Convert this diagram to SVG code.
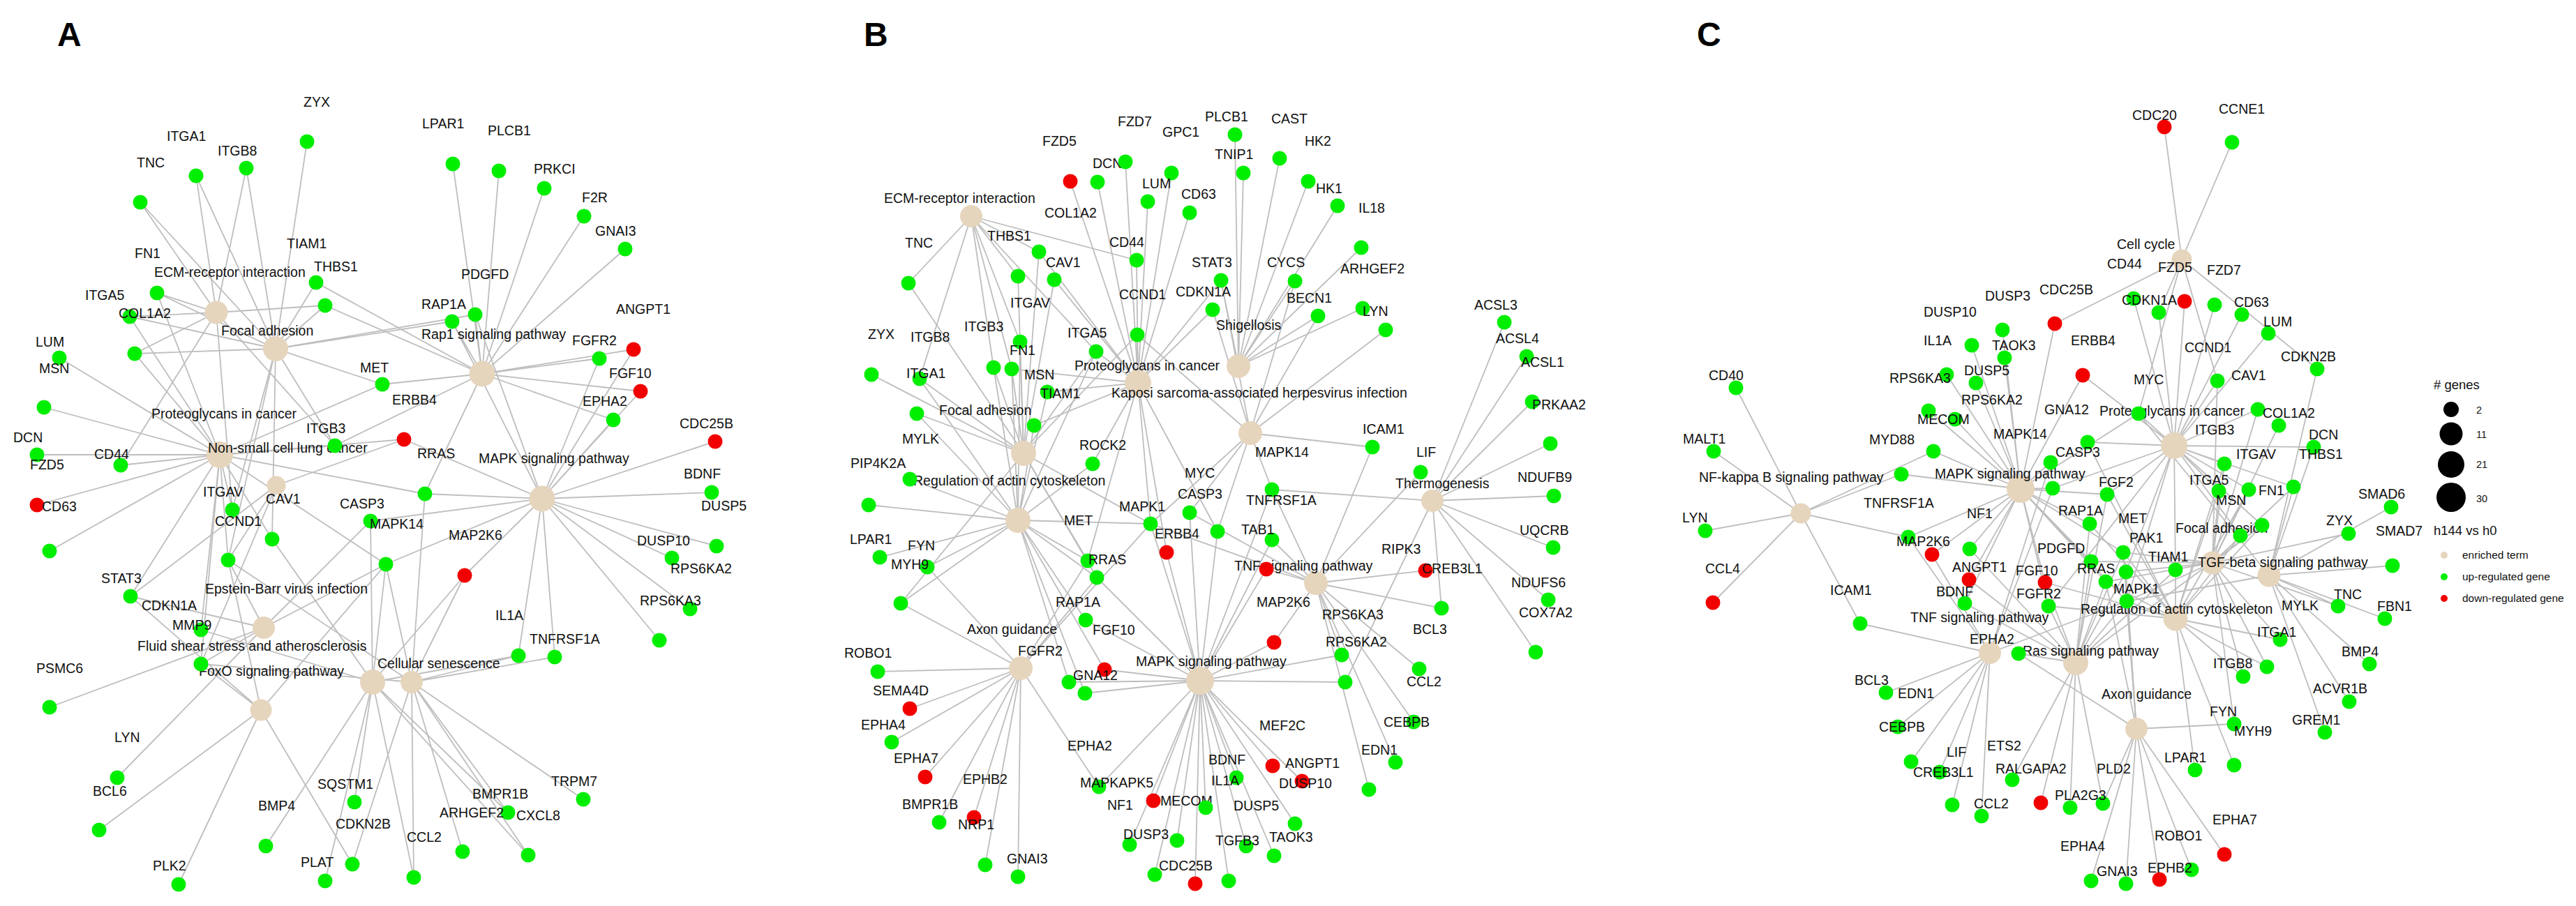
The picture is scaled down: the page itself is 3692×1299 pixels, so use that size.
<svg xmlns="http://www.w3.org/2000/svg" width="3692" height="1299" viewBox="0 0 3692 1299">
<style>
.e path{stroke:#bebebe;stroke-width:1.8;fill:none}
.t{fill:#e6d5bd}
.u{fill:#00ee00}
.d{fill:#f20000}
.k{fill:#000}
text{font-family:"Liberation Sans",Arial,Helvetica,sans-serif;font-size:19.5px;fill:#111}
.L{font-size:48px;font-weight:bold;fill:#000}
.s{font-size:15.5px}
.n{font-size:14.5px}
.h{font-size:18.5px}
</style>
<rect width="3692" height="1299" fill="#fff"/>
<text class="L" x="82" y="66">A</text>
<text class="L" x="1238" y="66">B</text>
<text class="L" x="2432" y="66">C</text>

<g id="connectors" class="e">
<!-- Panel A -->
<path d="M440 203L395 500"/>
<path d="M281 252L310 448M281 252L395 500"/>
<path d="M353 241L310 448M353 241L395 500"/>
<path d="M201 290L310 448M201 290L395 500"/>
<path d="M453 405L395 500M453 405L691 536"/>
<path d="M225 420L310 448M225 420L395 500M225 420L315 652"/>
<path d="M466 438L310 448M466 438L395 500M466 438L691 536"/>
<path d="M193 507L310 448M193 507L395 500M193 507L315 652"/>
<path d="M186 454L310 448M186 454L395 500M186 454L315 652"/>
<path d="M85 513L315 652"/>
<path d="M63 584L315 652"/>
<path d="M548 551L395 500M548 551L691 536M548 551L315 652"/>
<path d="M579 630L777 715M579 630L315 652M579 630L396 696"/>
<path d="M480 639L310 448M480 639L395 500M480 639L691 536M480 639L315 652"/>
<path d="M53 652L315 652"/>
<path d="M173 667L310 448M173 667L315 652"/>
<path d="M71 790L315 652"/>
<path d="M53 724L315 652"/>
<path d="M649 235L691 536"/>
<path d="M715 245L691 536"/>
<path d="M780 270L691 536"/>
<path d="M837 310L691 536"/>
<path d="M896 357L691 536"/>
<path d="M681 451L395 500M681 451L691 536M681 451L777 715"/>
<path d="M648 461L395 500M648 461L691 536M648 461L777 715"/>
<path d="M859 514L691 536M859 514L777 715"/>
<path d="M908 501L691 536M908 501L777 715"/>
<path d="M918 561L691 536M918 561L777 715"/>
<path d="M879 602L691 536M879 602L777 715"/>
<path d="M1025 633L777 715"/>
<path d="M609 708L315 652M609 708L691 536M609 708L777 715M609 708L590 978"/>
<path d="M1020 706L777 715"/>
<path d="M1027 783L777 715"/>
<path d="M963 800L777 715"/>
<path d="M989 873L777 715"/>
<path d="M945 918L777 715"/>
<path d="M666 825L777 715M666 825L534 978M666 825L590 978"/>
<path d="M743 940L777 715M743 940L534 978M743 940L590 978"/>
<path d="M795 942L777 715M795 942L590 978"/>
<path d="M836 1146L590 978"/>
<path d="M728 1165L534 978M728 1165L590 978"/>
<path d="M757 1226L590 978M757 1226L534 978"/>
<path d="M663 1221L590 978"/>
<path d="M593 1258L590 978M593 1258L534 978"/>
<path d="M333 731L310 448M333 731L395 500M333 731L315 652"/>
<path d="M327 803L395 500M327 803L315 652M327 803L396 696M327 803L378 900M327 803L374 1018M327 803L590 978"/>
<path d="M390 773L395 500M390 773L315 652M390 773L534 978"/>
<path d="M531 747L777 715M531 747L378 900M531 747L534 978"/>
<path d="M553 809L315 652M553 809L378 900M553 809L534 978M553 809L374 1018M553 809L590 978M553 809L777 715"/>
<path d="M187 855L315 652M187 855L396 696M187 855L378 900M187 855L374 1018"/>
<path d="M288 952L315 652M288 952L396 696M288 952L378 900M288 952L374 1018M288 952L590 978"/>
<path d="M288 903L315 652M288 903L534 978"/>
<path d="M71 1014L378 900"/>
<path d="M168 1115L378 900"/>
<path d="M142 1190L374 1018"/>
<path d="M256 1268L374 1018"/>
<path d="M381 1213L534 978"/>
<path d="M508 1150L534 978"/>
<path d="M505 1239L374 1018M505 1239L590 978"/>
<path d="M466 1263L534 978"/>
<!-- Panel B -->
<path d="M1534 260L1631 549"/>
<path d="M1573 261L1631 549"/>
<path d="M1613 232L1631 549"/>
<path d="M1679 248L1631 549"/>
<path d="M1645 289L1631 549"/>
<path d="M1705 305L1631 549"/>
<path d="M1459 396L1392 310M1459 396L1467 650"/>
<path d="M1489 361L1392 310M1489 361L1467 650M1489 361L1631 549"/>
<path d="M1302 406L1392 310M1302 406L1467 650"/>
<path d="M1629 373L1392 310M1629 373L1631 549"/>
<path d="M1511 401L1467 650M1511 401L1631 549"/>
<path d="M1462 490L1392 310M1462 490L1467 650M1462 490L1459 746"/>
<path d="M1424 527L1392 310M1424 527L1467 650M1424 527L1459 746"/>
<path d="M1450 529L1392 310M1450 529L1467 650M1450 529L1459 746M1450 529L1631 549"/>
<path d="M1571 504L1392 310M1571 504L1467 650M1571 504L1631 549M1571 504L1459 746"/>
<path d="M1249 537L1467 650"/>
<path d="M1318 543L1392 310M1318 543L1467 650M1318 543L1459 746"/>
<path d="M1482 610L1631 549M1482 610L1459 746"/>
<path d="M1501 562L1631 549M1501 562L1459 746"/>
<path d="M1314 593L1467 650M1314 593L1459 746"/>
<path d="M1566 665L1631 549M1566 665L1459 746"/>
<path d="M1630 480L1631 549M1630 480L1792 621M1630 480L1467 650"/>
<path d="M1738 444L1631 549M1738 444L1792 621"/>
<path d="M1750 402L1631 549M1750 402L1792 621M1750 402L1775 525"/>
<path d="M1770 193L1775 525"/>
<path d="M1782 248L1775 525"/>
<path d="M1834 227L1775 525"/>
<path d="M1875 260L1775 525"/>
<path d="M1917 295L1775 525"/>
<path d="M1951 355L1775 525"/>
<path d="M1856 403L1775 525M1856 403L1792 621"/>
<path d="M1889 453L1775 525M1889 453L1792 621"/>
<path d="M1953 442L1775 525"/>
<path d="M1986 473L1792 621"/>
<path d="M1967 641L1792 621M1967 641L1886 836"/>
<path d="M2036 677L1886 836"/>
<path d="M2156 462L2053 718"/>
<path d="M2188 511L2053 718"/>
<path d="M2196 576L2053 718"/>
<path d="M2222 636L2053 718"/>
<path d="M2227 711L2053 718"/>
<path d="M2226 785L2053 718"/>
<path d="M2219 860L2053 718"/>
<path d="M2201 935L2053 718"/>
<path d="M1304 687L1459 746"/>
<path d="M1245 724L1459 746"/>
<path d="M1261 799L1459 746"/>
<path d="M1291 865L1459 746M1291 865L1467 650M1291 865L1463 958"/>
<path d="M1329 813L1459 746M1329 813L1463 958"/>
<path d="M1745 762L1720 976M1745 762L1631 549M1745 762L1792 621"/>
<path d="M1705 735L1720 976M1705 735L1886 836M1705 735L1792 621"/>
<path d="M1649 751L1720 976M1649 751L1459 746M1649 751L1631 549M1649 751L1467 650M1649 751L1792 621M1649 751L1886 836M1649 751L1463 958"/>
<path d="M1672 792L1720 976M1672 792L1631 549"/>
<path d="M1559 804L1459 746M1559 804L1631 549M1559 804L1463 958M1559 804L1467 650"/>
<path d="M1572 828L1459 746M1572 828L1720 976M1572 828L1463 958M1572 828L1467 650"/>
<path d="M1556 889L1459 746M1556 889L1720 976"/>
<path d="M1532 978L1459 746M1532 978L1720 976"/>
<path d="M1583 960L1459 746M1583 960L1720 976"/>
<path d="M1555 994L1459 746M1555 994L1720 976"/>
<path d="M1823 702L1720 976M1823 702L1886 836M1823 702L2053 718M1823 702L1792 621"/>
<path d="M1823 774L1720 976M1823 774L1886 836"/>
<path d="M1815 816L1886 836M1815 816L1720 976"/>
<path d="M1826 921L1720 976M1826 921L1886 836"/>
<path d="M2043 818L1886 836"/>
<path d="M1962 1132L1886 836"/>
<path d="M2066 872L1886 836M2066 872L2053 718"/>
<path d="M1928 978L1720 976M1928 978L2053 718"/>
<path d="M1923 939L1720 976M1923 939L1886 836"/>
<path d="M2034 959L1886 836"/>
<path d="M2026 1035L1886 836"/>
<path d="M2000 1093L1886 836"/>
<path d="M1258 963L1463 958"/>
<path d="M1304 1016L1463 958"/>
<path d="M1278 1064L1463 958"/>
<path d="M1326 1114L1463 958"/>
<path d="M1346 1179L1463 958"/>
<path d="M1396 1172L1463 958"/>
<path d="M1412 1240L1463 958"/>
<path d="M1459 1257L1463 958"/>
<path d="M1575 1128L1463 958M1575 1128L1720 976"/>
<path d="M1619 1211L1720 976"/>
<path d="M1655 1254L1720 976"/>
<path d="M1687 1205L1720 976"/>
<path d="M1653 1148L1720 976"/>
<path d="M1713 1267L1720 976"/>
<path d="M1728 1158L1720 976"/>
<path d="M1772 1115L1720 976"/>
<path d="M1856 1181L1720 976"/>
<path d="M1786 1213L1720 976"/>
<path d="M1826 1227L1720 976"/>
<path d="M1761 1263L1720 976"/>
<path d="M1824 1098L1720 976"/>
<path d="M1866 1120L1720 976"/>
<!-- Panel C -->
<path d="M3102 182L3127 372"/>
<path d="M3199 204L3127 372"/>
<path d="M2945 464L3127 372M2945 464L2896 701"/>
<path d="M2870 473L2896 701"/>
<path d="M2764 589L2896 701"/>
<path d="M2826 495L2896 701"/>
<path d="M2873 513L2896 701"/>
<path d="M2985 538L3116 639M2985 538L2896 701"/>
<path d="M2488 556L2581 736"/>
<path d="M2832 549L2896 701"/>
<path d="M2790 537L2896 701"/>
<path d="M2992 634L3116 639M2992 634L3118 887"/>
<path d="M2802 601L2896 701"/>
<path d="M2456 647L2581 736"/>
<path d="M2771 647L2896 701M2771 647L2581 736"/>
<path d="M2942 700L2896 701M2942 700L3116 639M2942 700L2852 936"/>
<path d="M2939 663L2896 701M2939 663L2852 936"/>
<path d="M2725 680L2581 736M2725 680L2896 701"/>
<path d="M2735 770L2581 736M2735 770L2896 701M2735 770L2852 936"/>
<path d="M2769 795L2896 701M2769 795L2852 936"/>
<path d="M2823 787L2896 701M2823 787L2975 950"/>
<path d="M2822 831L2896 701M2822 831L2975 950"/>
<path d="M2816 865L2896 701M2816 865L2975 950"/>
<path d="M2931 835L2896 701M2931 835L2975 950M2931 835L3118 887"/>
<path d="M2936 869L2896 701M2936 869L2975 950M2936 869L3118 887M2936 869L3116 639"/>
<path d="M2995 751L2896 701M2995 751L2975 950M2995 751L3118 887"/>
<path d="M2997 805L2896 701M2997 805L2975 950M2997 805L3171 807"/>
<path d="M3018 834L2896 701M3018 834L2975 950M3018 834L3118 887M3018 834L3171 807M3018 834L3062 1045"/>
<path d="M3020 709L2896 701M3020 709L2975 950M3020 709L3118 887M3020 709L3116 639"/>
<path d="M3047 820L3116 639M3047 820L3171 807M3047 820L2975 950M3047 820L3062 1045"/>
<path d="M3043 792L2975 950M3043 792L3118 887M3043 792L3062 1045M3043 792L2896 701M3043 792L3171 807"/>
<path d="M3118 817L2975 950M3118 817L3118 887M3118 817L3116 639"/>
<path d="M3048 862L2896 701M3048 862L3116 639M3048 862L3171 807M3048 862L3118 887M3048 862L2975 950M3048 862L3062 1045M3048 862L3252 825M3048 862L2852 936"/>
<path d="M3058 428L3116 639"/>
<path d="M3094 448L3127 372M3094 448L3116 639"/>
<path d="M3131 432L3116 639"/>
<path d="M3174 437L3116 639"/>
<path d="M3213 451L3116 639"/>
<path d="M3251 478L3116 639"/>
<path d="M3321 529L3127 372M3321 529L3252 825"/>
<path d="M3178 546L3127 372M3178 546L3116 639M3178 546L3171 807"/>
<path d="M3236 587L3116 639M3236 587L3171 807"/>
<path d="M3065 593L3127 372M3065 593L3116 639M3065 593L2896 701M3065 593L3252 825"/>
<path d="M3266 610L3171 807"/>
<path d="M3316 641L3116 639M3316 641L3252 825"/>
<path d="M3188 665L3116 639M3188 665L3171 807M3188 665L3118 887"/>
<path d="M3287 698L3116 639M3287 698L3171 807M3287 698L3252 825"/>
<path d="M3180 704L3116 639M3180 704L3171 807M3180 704L3118 887"/>
<path d="M3223 702L3116 639M3223 702L3171 807M3223 702L3118 887"/>
<path d="M3211 768L3116 639M3211 768L3118 887"/>
<path d="M3242 753L3116 639M3242 753L3171 807M3242 753L3118 887M3242 753L2975 950"/>
<path d="M3427 727L3252 825"/>
<path d="M3366 765L3171 807"/>
<path d="M3429 811L3252 825"/>
<path d="M3351 869L3171 807M3351 869L3252 825"/>
<path d="M3418 887L3252 825"/>
<path d="M3249 956L3171 807M3249 956L3118 887"/>
<path d="M3268 917L3171 807M3268 917L3118 887"/>
<path d="M3215 970L3171 807M3215 970L3118 887"/>
<path d="M3396 952L3252 825"/>
<path d="M3367 1006L3252 825"/>
<path d="M3332 1050L3252 825"/>
<path d="M3202 1038L3171 807M3202 1038L3062 1045"/>
<path d="M3202 1097L3118 887"/>
<path d="M3146 1104L3118 887"/>
<path d="M3014 1152L2975 950M3014 1152L3062 1045"/>
<path d="M3188 1225L3062 1045"/>
<path d="M3141 1247L3062 1045"/>
<path d="M3095 1261L3062 1045"/>
<path d="M3047 1267L3062 1045"/>
<path d="M2997 1263L3062 1045"/>
<path d="M2967 1158L2975 950"/>
<path d="M2925 1151L2975 950"/>
<path d="M2884 1118L2975 950"/>
<path d="M2840 1170L2852 936"/>
<path d="M2798 1154L2852 936"/>
<path d="M2780 1107L2852 936"/>
<path d="M2720 1042L2852 936"/>
<path d="M2739 1092L2852 936"/>
<path d="M2703 993L2852 936"/>
<path d="M2666 894L2581 736M2666 894L2852 936"/>
<path d="M2893 937L2975 950M2893 937L3062 1045"/>
<path d="M2444 761L2581 736"/>
<path d="M2455 864L2581 736"/>
</g>

<g id="panelA">
<g id="A-ecm"><circle class="t" cx="310" cy="448" r="16.5"/><text x="221" y="397">ECM-receptor interaction</text></g>
<g id="A-foc"><circle class="t" cx="395" cy="500" r="18"/><text x="317" y="481">Focal adhesion</text></g>
<g id="A-rap1"><circle class="t" cx="691" cy="536" r="18.5"/><text x="604" y="486">Rap1 signaling pathway</text></g>
<g id="A-prot"><circle class="t" cx="315" cy="652" r="19"/><text x="217" y="600">Proteoglycans in cancer</text></g>
<g id="A-nsclc"><circle class="t" cx="396" cy="696" r="13.5"/><text x="298" y="649">Non-small cell lung cancer</text></g>
<g id="A-mapk"><circle class="t" cx="777" cy="715" r="18.5"/><text x="686" y="664">MAPK signaling pathway</text></g>
<g id="A-ebv"><circle class="t" cx="378" cy="900" r="16"/><text x="294" y="851">Epstein-Barr virus infection</text></g>
<g id="A-fluid"><circle class="t" cx="534" cy="978" r="18"/><text x="197" y="933">Fluid shear stress and atherosclerosis</text></g>
<g id="A-foxo"><circle class="t" cx="374" cy="1018" r="15.5"/><text x="285" y="969">FoxO signaling pathway</text></g>
<g id="A-sen"><circle class="t" cx="590" cy="978" r="16"/><text x="541" y="958">Cellular senescence</text></g>
<g id="A-ZYX"><circle class="u" cx="440" cy="203" r="10.5"/><text x="435" y="153">ZYX</text></g>
<g id="A-ITGA1"><circle class="u" cx="281" cy="252" r="10.5"/><text x="239" y="202">ITGA1</text></g>
<g id="A-ITGB8"><circle class="u" cx="353" cy="241" r="10.5"/><text x="312" y="223">ITGB8</text></g>
<g id="A-TNC"><circle class="u" cx="201" cy="290" r="10.5"/><text x="196" y="240">TNC</text></g>
<g id="A-TIAM1"><circle class="u" cx="453" cy="405" r="10.5"/><text x="411" y="356">TIAM1</text></g>
<g id="A-FN1"><circle class="u" cx="225" cy="420" r="10.5"/><text x="193" y="370">FN1</text></g>
<g id="A-THBS1"><circle class="u" cx="466" cy="438" r="10.5"/><text x="450" y="389">THBS1</text></g>
<g id="A-ITGA5"><circle class="u" cx="193" cy="507" r="10.5"/><text x="122" y="430">ITGA5</text></g>
<g id="A-COL1A2"><circle class="u" cx="186" cy="454" r="10.5"/><text x="170" y="456">COL1A2</text></g>
<g id="A-LUM"><circle class="u" cx="85" cy="513" r="10.5"/><text x="51" y="497">LUM</text></g>
<g id="A-MSN"><circle class="u" cx="63" cy="584" r="10.5"/><text x="56" y="535">MSN</text></g>
<g id="A-MET"><circle class="u" cx="548" cy="551" r="10.5"/><text x="516" y="534">MET</text></g>
<g id="A-ERBB4"><circle class="d" cx="579" cy="630" r="10.5"/><text x="562" y="580">ERBB4</text></g>
<g id="A-ITGB3"><circle class="u" cx="480" cy="639" r="10.5"/><text x="439" y="621">ITGB3</text></g>
<g id="A-DCN"><circle class="u" cx="53" cy="652" r="10.5"/><text x="19" y="634">DCN</text></g>
<g id="A-CD44"><circle class="u" cx="173" cy="667" r="10.5"/><text x="135" y="658">CD44</text></g>
<g id="A-FZD5"><circle class="u" cx="71" cy="790" r="10.5"/><text x="43" y="673">FZD5</text></g>
<g id="A-CD63"><circle class="d" cx="53" cy="724" r="10.5"/><text x="60" y="733">CD63</text></g>
<g id="A-LPAR1"><circle class="u" cx="649" cy="235" r="10.5"/><text x="605" y="184">LPAR1</text></g>
<g id="A-PLCB1"><circle class="u" cx="715" cy="245" r="10.5"/><text x="699" y="194">PLCB1</text></g>
<g id="A-PRKCI"><circle class="u" cx="780" cy="270" r="10.5"/><text x="765" y="249">PRKCI</text></g>
<g id="A-F2R"><circle class="u" cx="837" cy="310" r="10.5"/><text x="834" y="290">F2R</text></g>
<g id="A-GNAI3"><circle class="u" cx="896" cy="357" r="10.5"/><text x="853" y="338">GNAI3</text></g>
<g id="A-PDGFD"><circle class="u" cx="681" cy="451" r="10.5"/><text x="661" y="400">PDGFD</text></g>
<g id="A-RAP1A"><circle class="u" cx="648" cy="461" r="10.5"/><text x="604" y="443">RAP1A</text></g>
<g id="A-FGFR2"><circle class="u" cx="859" cy="514" r="10.5"/><text x="820" y="495">FGFR2</text></g>
<g id="A-ANGPT1"><circle class="d" cx="908" cy="501" r="10.5"/><text x="883" y="450">ANGPT1</text></g>
<g id="A-FGF10"><circle class="d" cx="918" cy="561" r="10.5"/><text x="873" y="542">FGF10</text></g>
<g id="A-EPHA2"><circle class="u" cx="879" cy="602" r="10.5"/><text x="835" y="582">EPHA2</text></g>
<g id="A-CDC25B"><circle class="d" cx="1025" cy="633" r="10.5"/><text x="974" y="614">CDC25B</text></g>
<g id="A-RRAS"><circle class="u" cx="609" cy="708" r="10.5"/><text x="598" y="657">RRAS</text></g>
<g id="A-BDNF"><circle class="u" cx="1020" cy="706" r="10.5"/><text x="980" y="686">BDNF</text></g>
<g id="A-DUSP5"><circle class="u" cx="1027" cy="783" r="10.5"/><text x="1005" y="732">DUSP5</text></g>
<g id="A-DUSP10"><circle class="u" cx="963" cy="800" r="10.5"/><text x="913" y="782">DUSP10</text></g>
<g id="A-RPS6KA2"><circle class="u" cx="989" cy="873" r="10.5"/><text x="961" y="822">RPS6KA2</text></g>
<g id="A-RPS6KA3"><circle class="u" cx="945" cy="918" r="10.5"/><text x="917" y="868">RPS6KA3</text></g>
<g id="A-MAP2K6"><circle class="d" cx="666" cy="825" r="10.5"/><text x="643" y="774">MAP2K6</text></g>
<g id="A-IL1A"><circle class="u" cx="743" cy="940" r="10.5"/><text x="710" y="889">IL1A</text></g>
<g id="A-TNFRSF1A"><circle class="u" cx="795" cy="942" r="10.5"/><text x="759" y="923">TNFRSF1A</text></g>
<g id="A-TRPM7"><circle class="u" cx="836" cy="1146" r="10.5"/><text x="790" y="1127">TRPM7</text></g>
<g id="A-BMPR1B"><circle class="u" cx="728" cy="1165" r="10.5"/><text x="677" y="1145">BMPR1B</text></g>
<g id="A-CXCL8"><circle class="u" cx="757" cy="1226" r="10.5"/><text x="740" y="1176">CXCL8</text></g>
<g id="A-ARHGEF2"><circle class="u" cx="663" cy="1221" r="10.5"/><text x="630" y="1172">ARHGEF2</text></g>
<g id="A-CCL2"><circle class="u" cx="593" cy="1258" r="10.5"/><text x="583" y="1207">CCL2</text></g>
<g id="A-ITGAV"><circle class="u" cx="333" cy="731" r="10.5"/><text x="291" y="712">ITGAV</text></g>
<g id="A-CCND1"><circle class="u" cx="327" cy="803" r="10.5"/><text x="308" y="754">CCND1</text></g>
<g id="A-CAV1"><circle class="u" cx="390" cy="773" r="10.5"/><text x="381" y="722">CAV1</text></g>
<g id="A-CASP3"><circle class="u" cx="531" cy="747" r="10.5"/><text x="487" y="729">CASP3</text></g>
<g id="A-MAPK14"><circle class="u" cx="553" cy="809" r="10.5"/><text x="530" y="758">MAPK14</text></g>
<g id="A-STAT3"><circle class="u" cx="187" cy="855" r="10.5"/><text x="145" y="836">STAT3</text></g>
<g id="A-CDKN1A"><circle class="u" cx="288" cy="952" r="10.5"/><text x="203" y="875">CDKN1A</text></g>
<g id="A-MMP9"><circle class="u" cx="288" cy="903" r="10.5"/><text x="247" y="903">MMP9</text></g>
<g id="A-PSMC6"><circle class="u" cx="71" cy="1014" r="10.5"/><text x="52" y="965">PSMC6</text></g>
<g id="A-LYN"><circle class="u" cx="168" cy="1115" r="10.5"/><text x="164" y="1064">LYN</text></g>
<g id="A-BCL6"><circle class="u" cx="142" cy="1190" r="10.5"/><text x="133" y="1141">BCL6</text></g>
<g id="A-PLK2"><circle class="u" cx="256" cy="1268" r="10.5"/><text x="219" y="1248">PLK2</text></g>
<g id="A-BMP4"><circle class="u" cx="381" cy="1213" r="10.5"/><text x="370" y="1162">BMP4</text></g>
<g id="A-SQSTM1"><circle class="u" cx="508" cy="1150" r="10.5"/><text x="455" y="1131">SQSTM1</text></g>
<g id="A-CDKN2B"><circle class="u" cx="505" cy="1239" r="10.5"/><text x="481" y="1188">CDKN2B</text></g>
<g id="A-PLAT"><circle class="u" cx="466" cy="1263" r="10.5"/><text x="431" y="1243">PLAT</text></g>
</g>

<g id="panelB">
<g id="B-ecm"><circle class="t" cx="1392" cy="310" r="16"/><text x="1267" y="291">ECM-receptor interaction</text></g>
<g id="B-foc"><circle class="t" cx="1467" cy="650" r="18"/><text x="1346" y="595">Focal adhesion</text></g>
<g id="B-prot"><circle class="t" cx="1631" cy="549" r="19"/><text x="1540" y="531">Proteoglycans in cancer</text></g>
<g id="B-shig"><circle class="t" cx="1775" cy="525" r="17"/><text x="1743" y="473">Shigellosis</text></g>
<g id="B-kshv"><circle class="t" cx="1792" cy="621" r="17"/><text x="1593" y="570">Kaposi sarcoma-associated herpesvirus infection</text></g>
<g id="B-reg"><circle class="t" cx="1459" cy="746" r="18"/><text x="1309" y="696">Regulation of actin cytoskeleton</text></g>
<g id="B-axon"><circle class="t" cx="1463" cy="958" r="17"/><text x="1386" y="909">Axon guidance</text></g>
<g id="B-mapk"><circle class="t" cx="1720" cy="976" r="20"/><text x="1628" y="955">MAPK signaling pathway</text></g>
<g id="B-tnf"><circle class="t" cx="1886" cy="836" r="17"/><text x="1769" y="818">TNF signaling pathway</text></g>
<g id="B-thermo"><circle class="t" cx="2053" cy="718" r="16"/><text x="2000" y="700">Thermogenesis</text></g>
<g id="B-FZD5"><circle class="d" cx="1534" cy="260" r="10.5"/><text x="1494" y="209">FZD5</text></g>
<g id="B-DCN"><circle class="u" cx="1573" cy="261" r="10.5"/><text x="1566" y="241">DCN</text></g>
<g id="B-FZD7"><circle class="u" cx="1613" cy="232" r="10.5"/><text x="1602" y="181">FZD7</text></g>
<g id="B-GPC1"><circle class="u" cx="1679" cy="248" r="10.5"/><text x="1666" y="196">GPC1</text></g>
<g id="B-LUM"><circle class="u" cx="1645" cy="289" r="10.5"/><text x="1637" y="270">LUM</text></g>
<g id="B-CD63"><circle class="u" cx="1705" cy="305" r="10.5"/><text x="1693" y="285">CD63</text></g>
<g id="B-COL1A2"><circle class="u" cx="1459" cy="396" r="10.5"/><text x="1497" y="312">COL1A2</text></g>
<g id="B-THBS1"><circle class="u" cx="1489" cy="361" r="10.5"/><text x="1415" y="345">THBS1</text></g>
<g id="B-TNC"><circle class="u" cx="1302" cy="406" r="10.5"/><text x="1297" y="355">TNC</text></g>
<g id="B-CD44"><circle class="u" cx="1629" cy="373" r="10.5"/><text x="1590" y="354">CD44</text></g>
<g id="B-CAV1"><circle class="u" cx="1511" cy="401" r="10.5"/><text x="1499" y="383">CAV1</text></g>
<g id="B-ITGAV"><circle class="u" cx="1462" cy="490" r="10.5"/><text x="1448" y="441">ITGAV</text></g>
<g id="B-ITGB3"><circle class="u" cx="1424" cy="527" r="10.5"/><text x="1382" y="475">ITGB3</text></g>
<g id="B-FN1"><circle class="u" cx="1450" cy="529" r="10.5"/><text x="1447" y="509">FN1</text></g>
<g id="B-ITGA5"><circle class="u" cx="1571" cy="504" r="10.5"/><text x="1530" y="484">ITGA5</text></g>
<g id="B-ZYX"><circle class="u" cx="1249" cy="537" r="10.5"/><text x="1244" y="486">ZYX</text></g>
<g id="B-ITGB8"><text x="1305" y="490">ITGB8</text></g>
<g id="B-ITGA1"><circle class="u" cx="1318" cy="543" r="10.5"/><text x="1299" y="542">ITGA1</text></g>
<g id="B-MSN"><circle class="u" cx="1482" cy="610" r="10.5"/><text x="1468" y="544">MSN</text></g>
<g id="B-TIAM1"><circle class="u" cx="1501" cy="562" r="10.5"/><text x="1491" y="571">TIAM1</text></g>
<g id="B-MYLK"><circle class="u" cx="1314" cy="593" r="10.5"/><text x="1293" y="636">MYLK</text></g>
<g id="B-ROCK2"><circle class="u" cx="1566" cy="665" r="10.5"/><text x="1547" y="645">ROCK2</text></g>
<g id="B-CCND1"><circle class="u" cx="1630" cy="480" r="10.5"/><text x="1604" y="429">CCND1</text></g>
<g id="B-CDKN1A"><circle class="u" cx="1738" cy="444" r="10.5"/><text x="1685" y="425">CDKN1A</text></g>
<g id="B-STAT3"><circle class="u" cx="1750" cy="402" r="10.5"/><text x="1708" y="383">STAT3</text></g>
<g id="B-PLCB1"><circle class="u" cx="1770" cy="193" r="10.5"/><text x="1727" y="174">PLCB1</text></g>
<g id="B-TNIP1"><circle class="u" cx="1782" cy="248" r="10.5"/><text x="1741" y="228">TNIP1</text></g>
<g id="B-CAST"><circle class="u" cx="1834" cy="227" r="10.5"/><text x="1822" y="177">CAST</text></g>
<g id="B-HK2"><circle class="u" cx="1875" cy="260" r="10.5"/><text x="1870" y="209">HK2</text></g>
<g id="B-HK1"><circle class="u" cx="1917" cy="295" r="10.5"/><text x="1886" y="277">HK1</text></g>
<g id="B-IL18"><circle class="u" cx="1951" cy="355" r="10.5"/><text x="1947" y="305">IL18</text></g>
<g id="B-CYCS"><circle class="u" cx="1856" cy="403" r="10.5"/><text x="1816" y="383">CYCS</text></g>
<g id="B-BECN1"><circle class="u" cx="1889" cy="453" r="10.5"/><text x="1844" y="434">BECN1</text></g>
<g id="B-LYN"><circle class="u" cx="1953" cy="442" r="10.5"/><text x="1953" y="453">LYN</text></g>
<g id="B-ARHGEF2"><circle class="u" cx="1986" cy="473" r="10.5"/><text x="1921" y="392">ARHGEF2</text></g>
<g id="B-ICAM1"><circle class="u" cx="1967" cy="641" r="10.5"/><text x="1953" y="622">ICAM1</text></g>
<g id="B-MAPK14"><text x="1799" y="655">MAPK14</text></g>
<g id="B-LIF"><circle class="u" cx="2036" cy="677" r="10.5"/><text x="2030" y="655">LIF</text></g>
<g id="B-ACSL3"><circle class="u" cx="2156" cy="462" r="10.5"/><text x="2113" y="444">ACSL3</text></g>
<g id="B-ACSL4"><circle class="u" cx="2188" cy="511" r="10.5"/><text x="2144" y="492">ACSL4</text></g>
<g id="B-ACSL1"><circle class="u" cx="2196" cy="576" r="10.5"/><text x="2180" y="526">ACSL1</text></g>
<g id="B-PRKAA2"><circle class="u" cx="2222" cy="636" r="10.5"/><text x="2196" y="587">PRKAA2</text></g>
<g id="B-NDUFB9"><circle class="u" cx="2227" cy="711" r="10.5"/><text x="2175" y="691">NDUFB9</text></g>
<g id="B-UQCRB"><circle class="u" cx="2226" cy="785" r="10.5"/><text x="2178" y="767">UQCRB</text></g>
<g id="B-NDUFS6"><circle class="u" cx="2219" cy="860" r="10.5"/><text x="2166" y="842">NDUFS6</text></g>
<g id="B-COX7A2"><circle class="u" cx="2201" cy="935" r="10.5"/><text x="2177" y="885">COX7A2</text></g>
<g id="B-PIP4K2A"><circle class="u" cx="1304" cy="687" r="10.5"/><text x="1219" y="671">PIP4K2A</text></g>
<g id="B-g1"><circle class="u" cx="1245" cy="724" r="10.5"/></g>
<g id="B-LPAR1"><circle class="u" cx="1261" cy="799" r="10.5"/><text x="1218" y="780">LPAR1</text></g>
<g id="B-FYN"><circle class="u" cx="1291" cy="865" r="10.5"/><text x="1301" y="789">FYN</text></g>
<g id="B-MYH9"><circle class="u" cx="1329" cy="813" r="10.5"/><text x="1277" y="816">MYH9</text></g>
<g id="B-MYC"><circle class="u" cx="1745" cy="762" r="10.5"/><text x="1698" y="685">MYC</text></g>
<g id="B-CASP3"><circle class="u" cx="1705" cy="735" r="10.5"/><text x="1688" y="715">CASP3</text></g>
<g id="B-MAPK1"><circle class="u" cx="1649" cy="751" r="10.5"/><text x="1604" y="733">MAPK1</text></g>
<g id="B-ERBB4"><circle class="d" cx="1672" cy="792" r="10.5"/><text x="1655" y="772">ERBB4</text></g>
<g id="B-MET"><circle class="u" cx="1559" cy="804" r="10.5"/><text x="1525" y="753">MET</text></g>
<g id="B-RRAS"><circle class="u" cx="1572" cy="828" r="10.5"/><text x="1560" y="809">RRAS</text></g>
<g id="B-RAP1A"><circle class="u" cx="1556" cy="889" r="10.5"/><text x="1513" y="870">RAP1A</text></g>
<g id="B-FGF10"><circle class="u" cx="1532" cy="978" r="10.5"/><text x="1566" y="910">FGF10</text></g>
<g id="B-GNA12"><circle class="d" cx="1583" cy="960" r="10.5"/><text x="1538" y="975">GNA12</text></g>
<g id="B-FGFR2"><circle class="u" cx="1555" cy="994" r="10.5"/><text x="1459" y="940">FGFR2</text></g>
<g id="B-TNFRSF1A"><circle class="u" cx="1823" cy="702" r="10.5"/><text x="1786" y="724">TNFRSF1A</text></g>
<g id="B-TAB1"><circle class="u" cx="1823" cy="774" r="10.5"/><text x="1779" y="766">TAB1</text></g>
<g id="B-g2"><circle class="d" cx="1815" cy="816" r="10.5"/></g>
<g id="B-MAP2K6"><circle class="d" cx="1826" cy="921" r="10.5"/><text x="1801" y="870">MAP2K6</text></g>
<g id="B-RIPK3"><circle class="d" cx="2043" cy="818" r="10.5"/><text x="1980" y="794">RIPK3</text></g>
<g id="B-CREB3L1"><circle class="u" cx="1962" cy="1132" r="10.5"/><text x="2038" y="822">CREB3L1</text></g>
<g id="B-BCL3"><circle class="u" cx="2066" cy="872" r="10.5"/><text x="2025" y="909">BCL3</text></g>
<g id="B-RPS6KA3"><circle class="u" cx="1928" cy="978" r="10.5"/><text x="1895" y="888">RPS6KA3</text></g>
<g id="B-RPS6KA2"><circle class="u" cx="1923" cy="939" r="10.5"/><text x="1900" y="927">RPS6KA2</text></g>
<g id="B-CCL2"><circle class="u" cx="2034" cy="959" r="10.5"/><text x="2016" y="984">CCL2</text></g>
<g id="B-CEBPB"><circle class="u" cx="2026" cy="1035" r="10.5"/><text x="1983" y="1042">CEBPB</text></g>
<g id="B-EDN1"><circle class="u" cx="2000" cy="1093" r="10.5"/><text x="1951" y="1082">EDN1</text></g>
<g id="B-ROBO1"><circle class="u" cx="1258" cy="963" r="10.5"/><text x="1210" y="943">ROBO1</text></g>
<g id="B-SEMA4D"><circle class="d" cx="1304" cy="1016" r="10.5"/><text x="1251" y="997">SEMA4D</text></g>
<g id="B-EPHA4"><circle class="u" cx="1278" cy="1064" r="10.5"/><text x="1234" y="1046">EPHA4</text></g>
<g id="B-EPHA7"><circle class="d" cx="1326" cy="1114" r="10.5"/><text x="1281" y="1094">EPHA7</text></g>
<g id="B-BMPR1B"><circle class="u" cx="1346" cy="1179" r="10.5"/><text x="1293" y="1160">BMPR1B</text></g>
<g id="B-NRP1"><circle class="d" cx="1396" cy="1172" r="10.5"/><text x="1373" y="1189">NRP1</text></g>
<g id="B-EPHB2"><circle class="u" cx="1412" cy="1240" r="10.5"/><text x="1380" y="1124">EPHB2</text></g>
<g id="B-GNAI3"><circle class="u" cx="1459" cy="1257" r="10.5"/><text x="1443" y="1238">GNAI3</text></g>
<g id="B-EPHA2"><circle class="u" cx="1575" cy="1128" r="10.5"/><text x="1530" y="1076">EPHA2</text></g>
<g id="B-MAPKAPK5"><circle class="u" cx="1619" cy="1211" r="10.5"/><text x="1548" y="1129">MAPKAPK5</text></g>
<g id="B-NF1"><circle class="u" cx="1655" cy="1254" r="10.5"/><text x="1587" y="1161">NF1</text></g>
<g id="B-DUSP3"><circle class="u" cx="1687" cy="1205" r="10.5"/><text x="1610" y="1203">DUSP3</text></g>
<g id="B-MECOM"><circle class="d" cx="1653" cy="1148" r="10.5"/><text x="1663" y="1155">MECOM</text></g>
<g id="B-CDC25B"><circle class="d" cx="1713" cy="1267" r="10.5"/><text x="1661" y="1248">CDC25B</text></g>
<g id="B-BDNF"><circle class="u" cx="1728" cy="1158" r="10.5"/><text x="1732" y="1096">BDNF</text></g>
<g id="B-IL1A"><circle class="u" cx="1772" cy="1115" r="10.5"/><text x="1736" y="1126">IL1A</text></g>
<g id="B-DUSP5"><circle class="u" cx="1856" cy="1181" r="10.5"/><text x="1768" y="1162">DUSP5</text></g>
<g id="B-TGFB3"><circle class="u" cx="1786" cy="1213" r="10.5"/><text x="1742" y="1212">TGFB3</text></g>
<g id="B-TAOK3"><circle class="u" cx="1826" cy="1227" r="10.5"/><text x="1819" y="1207">TAOK3</text></g>
<g id="B-MEF2C"><circle class="u" cx="1761" cy="1263" r="10.5"/><text x="1805" y="1047">MEF2C</text></g>
<g id="B-ANGPT1"><circle class="d" cx="1824" cy="1098" r="10.5"/><text x="1842" y="1101">ANGPT1</text></g>
<g id="B-DUSP10"><circle class="d" cx="1866" cy="1120" r="10.5"/><text x="1833" y="1130">DUSP10</text></g>
</g>

<g id="panelC">
<g id="C-cc"><circle class="t" cx="3127" cy="372" r="14.5"/><text x="3034" y="357">Cell cycle</text></g>
<g id="C-prot"><circle class="t" cx="3116" cy="639" r="19"/><text x="3009" y="596">Proteoglycans in cancer</text></g>
<g id="C-mapk"><circle class="t" cx="2896" cy="701" r="20"/><text x="2773" y="686">MAPK signaling pathway</text></g>
<g id="C-nfkb"><circle class="t" cx="2581" cy="736" r="14.5"/><text x="2435" y="691">NF-kappa B signaling pathway</text></g>
<g id="C-foc"><circle class="t" cx="3171" cy="807" r="16.5"/><text x="3118" y="764">Focal adhesion</text></g>
<g id="C-tgf"><circle class="t" cx="3252" cy="825" r="16.5"/><text x="3150" y="813">TGF-beta signaling pathway</text></g>
<g id="C-reg"><circle class="t" cx="3118" cy="887" r="17.5"/><text x="2982" y="880">Regulation of actin cytoskeleton</text></g>
<g id="C-tnf"><circle class="t" cx="2852" cy="936" r="16"/><text x="2738" y="892">TNF signaling pathway</text></g>
<g id="C-ras"><circle class="t" cx="2975" cy="950" r="18"/><text x="2899" y="940">Ras signaling pathway</text></g>
<g id="C-axon"><circle class="t" cx="3062" cy="1045" r="16"/><text x="3012" y="1002">Axon guidance</text></g>
<g id="C-CDC20"><circle class="d" cx="3102" cy="182" r="10.5"/><text x="3056" y="172">CDC20</text></g>
<g id="C-CCNE1"><circle class="u" cx="3199" cy="204" r="10.5"/><text x="3180" y="163">CCNE1</text></g>
<g id="C-CDC25B"><circle class="d" cx="2945" cy="464" r="10.5"/><text x="2923" y="422">CDC25B</text></g>
<g id="C-DUSP3"><circle class="u" cx="2870" cy="473" r="10.5"/><text x="2845" y="431">DUSP3</text></g>
<g id="C-DUSP10"><circle class="u" cx="2764" cy="589" r="10.5"/><text x="2757" y="454">DUSP10</text></g>
<g id="C-IL1A"><circle class="u" cx="2826" cy="495" r="10.5"/><text x="2757" y="495">IL1A</text></g>
<g id="C-TAOK3"><circle class="u" cx="2873" cy="513" r="10.5"/><text x="2855" y="502">TAOK3</text></g>
<g id="C-ERBB4"><circle class="d" cx="2985" cy="538" r="10.5"/><text x="2968" y="495">ERBB4</text></g>
<g id="C-CD40"><circle class="u" cx="2488" cy="556" r="10.5"/><text x="2449" y="545">CD40</text></g>
<g id="C-DUSP5"><circle class="u" cx="2832" cy="549" r="10.5"/><text x="2815" y="538">DUSP5</text></g>
<g id="C-RPS6KA3"><circle class="u" cx="2790" cy="537" r="10.5"/><text x="2708" y="549">RPS6KA3</text></g>
<g id="C-RPS6KA2"><text x="2811" y="580">RPS6KA2</text></g>
<g id="C-GNA12"><circle class="u" cx="2992" cy="634" r="10.5"/><text x="2930" y="594">GNA12</text></g>
<g id="C-MECOM"><circle class="u" cx="2802" cy="601" r="10.5"/><text x="2748" y="608">MECOM</text></g>
<g id="C-MALT1"><circle class="u" cx="2456" cy="647" r="10.5"/><text x="2412" y="636">MALT1</text></g>
<g id="C-MYD88"><circle class="u" cx="2771" cy="647" r="10.5"/><text x="2679" y="637">MYD88</text></g>
<g id="C-MAPK14"><circle class="u" cx="2942" cy="700" r="10.5"/><text x="2857" y="629">MAPK14</text></g>
<g id="C-CASP3"><circle class="u" cx="2939" cy="663" r="10.5"/><text x="2946" y="655">CASP3</text></g>
<g id="C-g1"><circle class="u" cx="2725" cy="680" r="10.5"/></g>
<g id="C-TNFRSF1A"><circle class="u" cx="2735" cy="770" r="10.5"/><text x="2671" y="728">TNFRSF1A</text></g>
<g id="C-MAP2K6"><circle class="d" cx="2769" cy="795" r="10.5"/><text x="2718" y="783">MAP2K6</text></g>
<g id="C-NF1"><circle class="u" cx="2823" cy="787" r="10.5"/><text x="2819" y="743">NF1</text></g>
<g id="C-ANGPT1"><circle class="d" cx="2822" cy="831" r="10.5"/><text x="2798" y="820">ANGPT1</text></g>
<g id="C-BDNF"><circle class="u" cx="2816" cy="865" r="10.5"/><text x="2775" y="855">BDNF</text></g>
<g id="C-FGF10"><circle class="d" cx="2931" cy="835" r="10.5"/><text x="2889" y="825">FGF10</text></g>
<g id="C-FGFR2"><circle class="u" cx="2936" cy="869" r="10.5"/><text x="2890" y="858">FGFR2</text></g>
<g id="C-RAP1A"><circle class="u" cx="2995" cy="751" r="10.5"/><text x="2950" y="739">RAP1A</text></g>
<g id="C-PDGFD"><circle class="u" cx="2997" cy="805" r="10.5"/><text x="2920" y="793">PDGFD</text></g>
<g id="C-RRAS"><circle class="u" cx="3018" cy="834" r="10.5"/><text x="2977" y="822">RRAS</text></g>
<g id="C-FGF2"><circle class="u" cx="3020" cy="709" r="10.5"/><text x="3008" y="698">FGF2</text></g>
<g id="C-MET"><circle class="u" cx="3047" cy="820" r="10.5"/><text x="3036" y="750">MET</text></g>
<g id="C-PAK1"><circle class="u" cx="3043" cy="792" r="10.5"/><text x="3052" y="778">PAK1</text></g>
<g id="C-TIAM1"><circle class="u" cx="3118" cy="817" r="10.5"/><text x="3079" y="805">TIAM1</text></g>
<g id="C-MAPK1"><circle class="u" cx="3048" cy="862" r="10.5"/><text x="3029" y="851">MAPK1</text></g>
<g id="C-CD44"><circle class="u" cx="3058" cy="428" r="10.5"/><text x="3020" y="385">CD44</text></g>
<g id="C-CDKN1A"><circle class="u" cx="3094" cy="448" r="10.5"/><text x="3041" y="437">CDKN1A</text></g>
<g id="C-FZD5"><circle class="d" cx="3131" cy="432" r="10.5"/><text x="3093" y="390">FZD5</text></g>
<g id="C-FZD7"><circle class="u" cx="3174" cy="437" r="10.5"/><text x="3163" y="394">FZD7</text></g>
<g id="C-CD63"><circle class="u" cx="3213" cy="451" r="10.5"/><text x="3202" y="440">CD63</text></g>
<g id="C-LUM"><circle class="u" cx="3251" cy="478" r="10.5"/><text x="3244" y="468">LUM</text></g>
<g id="C-CDKN2B"><circle class="u" cx="3321" cy="529" r="10.5"/><text x="3269" y="518">CDKN2B</text></g>
<g id="C-CCND1"><circle class="u" cx="3178" cy="546" r="10.5"/><text x="3131" y="505">CCND1</text></g>
<g id="C-CAV1"><circle class="u" cx="3236" cy="587" r="10.5"/><text x="3198" y="545">CAV1</text></g>
<g id="C-MYC"><circle class="u" cx="3065" cy="593" r="10.5"/><text x="3058" y="551">MYC</text></g>
<g id="C-COL1A2"><circle class="u" cx="3266" cy="610" r="10.5"/><text x="3243" y="599">COL1A2</text></g>
<g id="C-DCN"><circle class="u" cx="3316" cy="641" r="10.5"/><text x="3309" y="630">DCN</text></g>
<g id="C-ITGAV"><circle class="u" cx="3188" cy="665" r="10.5"/><text x="3205" y="658">ITGAV</text></g>
<g id="C-THBS1"><circle class="u" cx="3287" cy="698" r="10.5"/><text x="3295" y="658">THBS1</text></g>
<g id="C-ITGA5"><circle class="u" cx="3180" cy="704" r="10.5"/><text x="3138" y="695">ITGA5</text></g>
<g id="C-FN1"><circle class="u" cx="3223" cy="702" r="10.5"/><text x="3237" y="710">FN1</text></g>
<g id="C-MSN"><circle class="u" cx="3211" cy="768" r="10.5"/><text x="3176" y="724">MSN</text></g>
<g id="C-ITGB3"><circle class="u" cx="3242" cy="753" r="10.5"/><text x="3146" y="623">ITGB3</text></g>
<g id="C-SMAD6"><circle class="u" cx="3427" cy="727" r="10.5"/><text x="3380" y="715">SMAD6</text></g>
<g id="C-ZYX"><circle class="u" cx="3366" cy="765" r="10.5"/><text x="3334" y="753">ZYX</text></g>
<g id="C-SMAD7"><circle class="u" cx="3429" cy="811" r="10.5"/><text x="3405" y="768">SMAD7</text></g>
<g id="C-TNC"><circle class="u" cx="3351" cy="869" r="10.5"/><text x="3345" y="859">TNC</text></g>
<g id="C-FBN1"><circle class="u" cx="3418" cy="887" r="10.5"/><text x="3407" y="876">FBN1</text></g>
<g id="C-MYLK"><circle class="u" cx="3249" cy="956" r="10.5"/><text x="3270" y="875">MYLK</text></g>
<g id="C-ITGA1"><circle class="u" cx="3268" cy="917" r="10.5"/><text x="3235" y="913">ITGA1</text></g>
<g id="C-ITGB8"><circle class="u" cx="3215" cy="970" r="10.5"/><text x="3172" y="958">ITGB8</text></g>
<g id="C-BMP4"><circle class="u" cx="3396" cy="952" r="10.5"/><text x="3356" y="941">BMP4</text></g>
<g id="C-ACVR1B"><circle class="u" cx="3367" cy="1006" r="10.5"/><text x="3315" y="994">ACVR1B</text></g>
<g id="C-GREM1"><circle class="u" cx="3332" cy="1050" r="10.5"/><text x="3285" y="1039">GREM1</text></g>
<g id="C-FYN"><circle class="u" cx="3202" cy="1038" r="10.5"/><text x="3167" y="1027">FYN</text></g>
<g id="C-MYH9"><circle class="u" cx="3202" cy="1097" r="10.5"/><text x="3202" y="1055">MYH9</text></g>
<g id="C-LPAR1"><circle class="u" cx="3146" cy="1104" r="10.5"/><text x="3102" y="1093">LPAR1</text></g>
<g id="C-PLD2"><circle class="u" cx="3014" cy="1152" r="10.5"/><text x="3005" y="1109">PLD2</text></g>
<g id="C-EPHA7"><circle class="d" cx="3188" cy="1225" r="10.5"/><text x="3171" y="1182">EPHA7</text></g>
<g id="C-ROBO1"><circle class="u" cx="3141" cy="1247" r="10.5"/><text x="3088" y="1205">ROBO1</text></g>
<g id="C-EPHB2"><circle class="d" cx="3095" cy="1261" r="10.5"/><text x="3078" y="1251">EPHB2</text></g>
<g id="C-GNAI3"><circle class="u" cx="3047" cy="1267" r="10.5"/><text x="3005" y="1256">GNAI3</text></g>
<g id="C-EPHA4"><circle class="u" cx="2997" cy="1263" r="10.5"/><text x="2953" y="1220">EPHA4</text></g>
<g id="C-PLA2G3"><circle class="u" cx="2967" cy="1158" r="10.5"/><text x="2945" y="1147">PLA2G3</text></g>
<g id="C-RALGAPA2"><circle class="d" cx="2925" cy="1151" r="10.5"/><text x="2860" y="1109">RALGAPA2</text></g>
<g id="C-ETS2"><circle class="u" cx="2884" cy="1118" r="10.5"/><text x="2848" y="1076">ETS2</text></g>
<g id="C-CCL2"><circle class="u" cx="2840" cy="1170" r="10.5"/><text x="2829" y="1159">CCL2</text></g>
<g id="C-LIF"><circle class="u" cx="2798" cy="1154" r="10.5"/><text x="2790" y="1085">LIF</text></g>
<g id="C-CREB3L1"><circle class="u" cx="2780" cy="1107" r="10.5"/><text x="2742" y="1114">CREB3L1</text></g>
<g id="C-CEBPB"><circle class="u" cx="2720" cy="1042" r="10.5"/><text x="2693" y="1049">CEBPB</text></g>
<g id="C-EDN1"><circle class="u" cx="2739" cy="1092" r="10.5"/><text x="2720" y="1001">EDN1</text></g>
<g id="C-BCL3"><circle class="u" cx="2703" cy="993" r="10.5"/><text x="2658" y="982">BCL3</text></g>
<g id="C-ICAM1"><circle class="u" cx="2666" cy="894" r="10.5"/><text x="2623" y="853">ICAM1</text></g>
<g id="C-EPHA2"><circle class="u" cx="2893" cy="937" r="10.5"/><text x="2823" y="923">EPHA2</text></g>
<g id="C-LYN"><circle class="u" cx="2444" cy="761" r="10.5"/><text x="2411" y="749">LYN</text></g>
<g id="C-CCL4"><circle class="d" cx="2455" cy="864" r="10.5"/><text x="2444" y="822">CCL4</text></g>
</g>

<g id="legend">
<text class="h" x="3488" y="558"># genes</text>
<circle class="k" cx="3513" cy="587" r="11"/><text class="n" x="3549" y="593">2</text>
<circle class="k" cx="3513" cy="622" r="16.5"/><text class="n" x="3549" y="628">11</text>
<circle class="k" cx="3513" cy="666" r="19"/><text class="n" x="3549" y="671">21</text>
<circle class="k" cx="3513" cy="713" r="21"/><text class="n" x="3549" y="720">30</text>
<text class="h" x="3488" y="767">h144 vs h0</text>
<circle class="t" cx="3503" cy="796" r="5"/><text class="s" x="3529" y="801">enriched term</text>
<circle class="u" cx="3503" cy="827" r="5"/><text class="s" x="3529" y="832">up-regulated gene</text>
<circle class="d" cx="3503" cy="858" r="5"/><text class="s" x="3529" y="863">down-regulated gene</text>
</g>
</svg>
